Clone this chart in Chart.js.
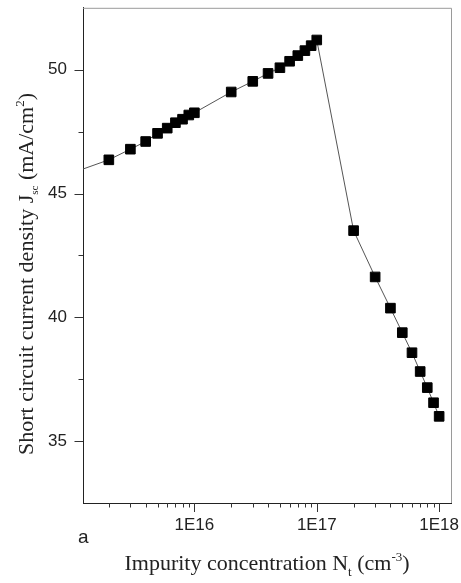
<!DOCTYPE html>
<html>
<head>
<meta charset="utf-8">
<script src="https://cdn.jsdelivr.net/npm/chart.js@4.4.0/dist/chart.umd.min.js"></script>
<style>
  html, body { margin: 0; padding: 0; background: #fff; }
  #wrap { width: 461px; height: 583px; }
</style>
</head>
<body>
<div id="wrap"><canvas id="jsc-chart" width="461" height="583"></canvas></div>
<script>
// impurity concentration Nt (cm^-3) and Jsc (mA/cm^2)
const concentrations = [
  1e15, 2e15, 3e15, 4e15, 5e15, 6e15, 7e15, 8e15, 9e15,
  1e16, 2e16, 3e16, 4e16, 5e16, 6e16, 7e16, 8e16, 9e16,
  1e17, 2e17, 3e17, 4e17, 5e17, 6e17, 7e17, 8e17, 9e17,
  1e18,
];
const jscValues = [
  45.83, 46.36, 46.79, 47.10, 47.43, 47.64, 47.86, 48.00, 48.17,
  48.26, 49.10, 49.53, 49.85, 50.08, 50.34, 50.57, 50.77, 50.97,
  51.20, 43.50, 41.63, 40.37, 39.38, 38.57, 37.81, 37.16, 36.55,
  36.00,
];
const xTickValues = [1e16, 1e17, 1e18];
const yTickValues = [35, 40, 45, 50];
const yMinorTicks = [37.5, 42.5, 47.5];

const points = concentrations.map((c, i) => ({ x: c, y: jscValues[i] }));

const SANS = '"Liberation Sans", Arial, sans-serif';
const SERIF = '"Liberation Serif", "Times New Roman", serif';

// draw text made of pieces (for sub/superscripts)
function drawRich(ctx, parts, x, y) {
  let total = 0;
  parts.forEach(p => {
    ctx.font = p.size + 'px ' + SERIF;
    p.w = ctx.measureText(p.text).width;
    total += p.w;
  });
  let cx = x - total / 2;
  parts.forEach(p => {
    ctx.font = p.size + 'px ' + SERIF;
    ctx.fillText(p.text, cx, y + (p.dy || 0));
    cx += p.w;
  });
}

// no extra room for edge labels, the plot box is fixed by layout padding
function noPadding(scale) {
  scale.paddingLeft = 0;
  scale.paddingRight = 0;
  scale.paddingTop = 0;
  scale.paddingBottom = 0;
}

const framePlugin = {
  id: 'frame',
  afterDraw(chart) {
    const { ctx, chartArea: a, scales } = chart;
    const xs = scales.x;
    const ys = scales.y;
    ctx.save();

    // top and right frame lines
    ctx.strokeStyle = '#9a9a9a';
    ctx.lineWidth = 1;
    ctx.beginPath();
    ctx.moveTo(a.left, a.top + 0.5);
    ctx.lineTo(a.right + 0.5, a.top + 0.5);
    ctx.lineTo(a.right + 0.5, a.bottom);
    ctx.stroke();

    // tick marks
    ctx.strokeStyle = '#333';
    ctx.beginPath();
    yTickValues.forEach(v => {
      const py = Math.round(ys.getPixelForValue(v)) + 0.5;
      ctx.moveTo(a.left, py);
      ctx.lineTo(a.left - 8.5, py);
    });
    yMinorTicks.forEach(v => {
      const py = Math.round(ys.getPixelForValue(v)) + 0.5;
      ctx.moveTo(a.left, py);
      ctx.lineTo(a.left - 4.5, py);
    });
    for (let e = 15; e <= 18; e++) {
      for (let m = 1; m <= 9; m++) {
        const v = m * Math.pow(10, e);
        if (v < xs.min || v > xs.max) continue;
        const px = Math.round(xs.getPixelForValue(v)) + 0.5;
        ctx.moveTo(px, a.bottom);
        ctx.lineTo(px, a.bottom + (m === 1 ? 9 : 4.5));
      }
    }
    ctx.stroke();

    // axis titles
    ctx.fillStyle = '#222';
    ctx.textBaseline = 'alphabetic';
    ctx.textAlign = 'left';
    drawRich(ctx, [
      { text: 'Impurity concentration N', size: 22 },
      { text: 't', size: 13, dy: 6 },
      { text: ' (cm', size: 22 },
      { text: '-3', size: 13, dy: -9 },
      { text: ')', size: 22 },
    ], (a.left + a.right) / 2, 570);

    ctx.save();
    ctx.translate(33, 274);
    ctx.rotate(-Math.PI / 2);
    drawRich(ctx, [
      { text: 'Short circuit current density J', size: 22 },
      { text: 'sc', size: 11, dy: 5 },
      { text: ' (mA/cm', size: 22 },
      { text: '2', size: 13, dy: -9 },
      { text: ')', size: 22 },
    ], 0, 0);
    ctx.restore();

    // panel letter
    ctx.font = '19px ' + SANS;
    ctx.fillText('a', 78, 543);
    ctx.restore();
  },
};

const chart = new Chart(document.getElementById('jsc-chart'), {
  type: 'line',
  data: {
    datasets: [
      {
        label: 'Jsc',
        data: points,
        borderColor: '#555',
        borderWidth: 1,
        pointStyle: 'rect',
        pointRadius: 6.8,
        pointBackgroundColor: '#000',
        pointBorderColor: '#000',
        pointBorderWidth: 1,
        tension: 0,
        clip: 0,
      },
    ],
  },
  options: {
    responsive: false,
    animation: false,
    events: [],
    plugins: {
      legend: { display: false },
      tooltip: { enabled: false },
    },
    layout: {
      padding: { top: 7, right: 10, left: 0, bottom: 0 },
    },
    scales: {
      x: {
        type: 'logarithmic',
        min: 1.23e15,
        max: 1.25e18,
        afterBuildTicks: scale => {
          scale.ticks = xTickValues.map(v => ({ value: v, major: true }));
        },
        afterFit: scale => {
          scale.height = 80;
          noPadding(scale);
        },
        grid: { display: false, drawTicks: false },
        border: { display: true, color: '#222', width: 1 },
        ticks: {
          padding: 12,
          color: '#222',
          font: { family: SANS, size: 17 },
          maxRotation: 0,
          autoSkip: false,
          callback: v => '1E' + Math.round(Math.log10(v)),
        },
      },
      y: {
        min: 32.5,
        max: 52.5,
        afterBuildTicks: scale => {
          scale.ticks = yTickValues.map(v => ({ value: v }));
        },
        afterFit: scale => {
          scale.width = 83;
          noPadding(scale);
        },
        grid: { display: false, drawTicks: false },
        border: { display: true, color: '#222', width: 1 },
        ticks: {
          padding: 16,
          color: '#222',
          font: { family: SANS, size: 17 },
        },
      },
    },
  },
  plugins: [framePlugin],
});
</script>
</body>
</html>
